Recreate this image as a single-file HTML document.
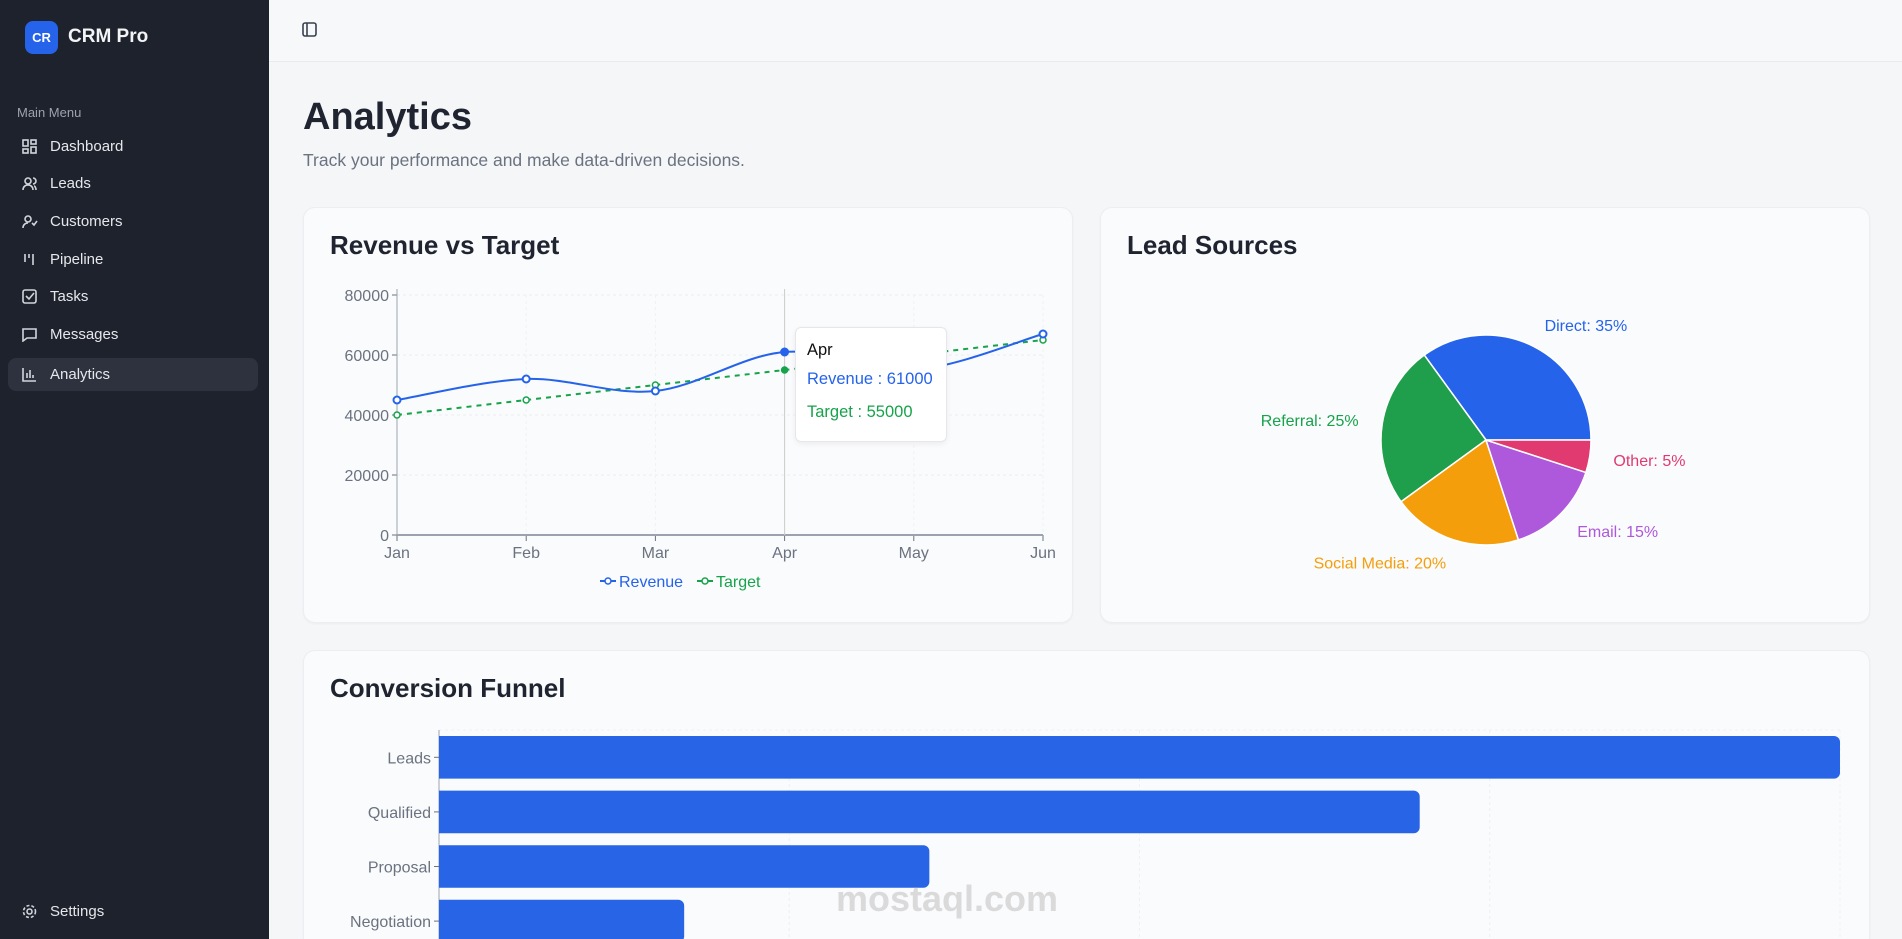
<!DOCTYPE html>
<html style="width:1902px;height:939px;overflow:hidden"><head><meta charset="utf-8">
<style>
*{box-sizing:border-box;margin:0;padding:0}
html,body{width:1902px;height:939px;overflow:hidden}
body{font-family:"Liberation Sans",sans-serif;background:#f5f6f8;position:relative}
.sb{position:absolute;left:0;top:0;width:269px;height:939px;background:#1e222c;color:#e5e7eb;z-index:2}
.logo{position:absolute;left:25px;top:21px;width:33px;height:33px;border-radius:8px;background:#2563eb;color:#fff;font-weight:bold;font-size:13px;display:flex;align-items:center;justify-content:center}
.brand{position:absolute;left:68px;top:26px;font-size:19px;font-weight:bold;color:#f3f4f6}
.mm{position:absolute;left:17px;top:105px;font-size:13px;color:#9ca3af}
.it{position:absolute;left:8px;width:250px;height:33px;border-radius:8px;font-size:15px;color:#e5e7eb;display:flex;align-items:center;padding-left:42px}
.it svg{position:absolute;left:14px;top:9px}
.act{background:#2d323e}
.hdr{position:absolute;left:269px;top:0;right:0;height:62px;border-bottom:1px solid #e8eaee;background:#f7f8fa}
.card{position:absolute;background:#fafbfc;border:1px solid #eceef1;border-radius:12px;box-shadow:0 1px 2px rgba(0,0,0,.04)}
.ct{position:absolute;left:26px;top:22px;font-size:26px;font-weight:bold;color:#1f2430}
</style></head><body>
<div class="sb">
 <div class="logo">CR</div>
 <div class="brand">CRM Pro</div>
 <div class="mm">Main Menu</div>
 <div class="it" style="top:130px"><svg width="15" height="15" fill="none" stroke="#d1d5db" stroke-width="1.6"><rect x="1" y="1" width="5" height="6"/><rect x="9" y="1" width="5" height="4"/><rect x="1" y="10" width="5" height="4"/><rect x="9" y="8" width="5" height="6"/></svg>Dashboard</div>
 <div class="it" style="top:167px"><svg width="16" height="15" fill="none" stroke="#d1d5db" stroke-width="1.6"><circle cx="6" cy="5" r="3"/><path d="M1 14c0-3 2-5 5-5s5 2 5 5M11 2a3 3 0 010 6M14 14c0-2-1-4-2-4"/></svg>Leads</div>
 <div class="it" style="top:205px"><svg width="16" height="15" fill="none" stroke="#d1d5db" stroke-width="1.6"><circle cx="6" cy="5" r="3"/><path d="M1 14c0-3 2-5 5-5M10 9l2 2 3-4"/></svg>Customers</div>
 <div class="it" style="top:243px"><svg width="15" height="15" fill="none" stroke="#d1d5db" stroke-width="1.6"><path d="M3 2v8M7 2v4M11 2v11"/></svg>Pipeline</div>
 <div class="it" style="top:280px"><svg width="15" height="15" fill="none" stroke="#d1d5db" stroke-width="1.6"><rect x="1" y="1" width="13" height="13" rx="2"/><path d="M4 7l3 3 5-6"/></svg>Tasks</div>
 <div class="it" style="top:318px"><svg width="15" height="15" fill="none" stroke="#d1d5db" stroke-width="1.6"><path d="M1 2h13v9H5l-4 3z"/></svg>Messages</div>
 <div class="it act" style="top:358px"><svg width="15" height="15" fill="none" stroke="#d1d5db" stroke-width="1.6"><path d="M1 1v13h13M5 11V6M8 11V3M11 11V8"/></svg>Analytics</div>
 <div class="it" style="top:895px"><svg width="15" height="15" fill="none" stroke="#d1d5db" stroke-width="1.6"><circle cx="7.5" cy="7.5" r="2.5"/><circle cx="7.5" cy="7.5" r="6" stroke-dasharray="3 2"/></svg>Settings</div>
</div>
<div class="hdr">
 <svg style="position:absolute;left:33px;top:22px" width="15" height="15" fill="none" stroke="#374151" stroke-width="1.6"><rect x="1" y="1" width="13" height="13" rx="2"/><path d="M5 1v13"/></svg>
</div>
<div style="position:absolute;left:303px;top:96px;font-size:38px;font-weight:bold;color:#1f2430">Analytics</div>
<div style="position:absolute;left:303px;top:150px;font-size:17.5px;color:#6b7280">Track your performance and make data-driven decisions.</div>

<div class="card" style="left:303px;top:207px;width:770px;height:416px">
 <div class="ct">Revenue vs Target</div>
</div>
<div class="card" style="left:1100px;top:207px;width:770px;height:416px">
 <div class="ct">Lead Sources</div>
</div>
<div class="card" style="left:303px;top:650px;width:1567px;height:289px;border-bottom:none;border-radius:12px 12px 0 0">
 <div class="ct">Conversion Funnel</div>
</div>

<svg id="svg" width="1902" height="939" style="position:absolute;left:0;top:0" font-family="Liberation Sans, sans-serif"></svg>
<div style="position:absolute;left:836px;top:878px;font-size:36px;font-weight:bold;color:rgba(170,170,170,.4)">mostaql.com</div>

<div style="position:absolute;left:795px;top:327px;width:152px;height:115px;background:#fff;border:1px solid #e5e7eb;border-radius:6px;box-shadow:0 2px 6px rgba(0,0,0,.06);padding:13px 11px;font-size:16.5px">
 <div style="color:#111">Apr</div>
 <div style="color:#2563eb;margin-top:10px">Revenue : 61000</div>
 <div style="color:#16a34a;margin-top:14px">Target : 55000</div>
</div>

<script>
const months=["Jan","Feb","Mar","Apr","May","Jun"];
const revenue=[45000,52000,48000,61000,55000,67000];
const target=[40000,45000,50000,55000,60000,65000];
const yTicks=[0,20000,40000,60000,80000];
const pieLabels=["Direct","Referral","Social Media","Email","Other"];
const pieValues=[35,25,20,15,5];
const pieColors=["#2563eb","#1f9e4b","#f59e0b","#ae58db","#e03a70"];
const funnelStages=["Leads","Qualified","Proposal","Negotiation"];
const funnelValues=[1000,700,350,175];
const funnelMax=1000;

const S=document.getElementById('svg');const NS="http://www.w3.org/2000/svg";
function mk(t,a,txt){const e=document.createElementNS(NS,t);for(const k in a)e.setAttribute(k,a[k]);if(txt!=null)e.textContent=txt;S.appendChild(e);return e;}
const x0=397,x1=1043,yb=535,yt=295;
const xs=i=>x0+(x1-x0)*i/(months.length-1);
const ys=v=>yb-(yb-yt)*v/80000;
yTicks.forEach(t=>{let g=mk('line',{x1:x0,x2:x1,y1:ys(t),y2:ys(t),stroke:'#eceef1','stroke-dasharray':'3 3'});
 let l=mk('text',{x:x0-8,y:ys(t)+6,'text-anchor':'end','font-size':16,fill:'#6b7280'},t);
 mk('line',{x1:x0-5,x2:x0,y1:ys(t),y2:ys(t),stroke:'#6b7280'});});
months.forEach((m,i)=>{mk('line',{x1:xs(i),x2:xs(i),y1:yt,y2:yb,stroke:'#f0f1f3','stroke-dasharray':'3 3'});
 let l=mk('text',{x:xs(i),y:yb+23,'text-anchor':'middle','font-size':16,fill:'#6b7280'},m);
 mk('line',{x1:xs(i),x2:xs(i),y1:yb,y2:yb+6,stroke:'#6b7280'});});
mk('line',{x1:x0,x2:x0,y1:yt-6,y2:yb,stroke:'#9ca3af'});
mk('line',{x1:x0,x2:x1,y1:yb,y2:yb,stroke:'#9ca3af','stroke-width':2});
mk('line',{x1:xs(3),x2:xs(3),y1:yt-6,y2:yb,stroke:'#ccc'});
function curve(vals){const p=vals.map((v,i)=>[xs(i),ys(v)]);let d=`M${p[0][0]},${p[0][1]}`;
 for(let i=0;i<p.length-1;i++){const p0=p[i-1]||p[i],p1=p[i],p2=p[i+1],p3=p[i+2]||p2;
 d+=` C${p1[0]+(p2[0]-p0[0])/6},${p1[1]+(p2[1]-p0[1])/6} ${p2[0]-(p3[0]-p1[0])/6},${p2[1]-(p3[1]-p1[1])/6} ${p2[0]},${p2[1]}`;}return d;}
let tl=mk('path',{d:curve(target),fill:'none',stroke:'#16a34a','stroke-width':2,'stroke-dasharray':'5 5'});
let rl=mk('path',{d:curve(revenue),fill:'none',stroke:'#2563eb','stroke-width':2});
target.forEach((v,i)=>{let c=mk('circle',{cx:xs(i),cy:ys(v),r:3,fill:i==3?'#16a34a':'#fff',stroke:'#16a34a','stroke-width':1.5});});
revenue.forEach((v,i)=>{let c=mk('circle',{cx:xs(i),cy:ys(v),r:3.5,fill:i==3?'#2563eb':'#fff',stroke:'#2563eb','stroke-width':2});});
mk('line',{x1:600,x2:616,y1:581,y2:581,stroke:'#2563eb','stroke-width':2});mk('circle',{cx:608,cy:581,r:3,fill:'#fff',stroke:'#2563eb','stroke-width':1.5});
let lr=mk('text',{x:619,y:587,'font-size':16,fill:'#2563eb'},'Revenue');
mk('line',{x1:697,x2:713,y1:581,y2:581,stroke:'#16a34a','stroke-width':2});mk('circle',{cx:705,cy:581,r:3,fill:'#fff',stroke:'#16a34a','stroke-width':1.5});
let lt=mk('text',{x:716,y:587,'font-size':16,fill:'#16a34a'},'Target');
const cx=1486,cy=440,R=105;let tot=pieValues.reduce((a,b)=>a+b,0),a=0;
pieValues.forEach((v,i)=>{const a1=a,a2=a+v/tot*2*Math.PI;a=a2;
 const P=t=>[cx+R*Math.cos(t),cy-R*Math.sin(t)];const s=P(a1),e=P(a2);
 let p=mk('path',{d:`M${cx},${cy}L${s[0]},${s[1]}A${R},${R} 0 ${a2-a1>Math.PI?1:0} 0 ${e[0]},${e[1]}Z`,fill:pieColors[i],stroke:'#fff','stroke-width':1.5});
 
 const m=(a1+a2)/2,lx=cx+(R+24)*Math.cos(m),ly=cy-(R+24)*Math.sin(m);
 let t=mk('text',{x:lx,y:ly+6,'font-size':16,fill:pieColors[i]==='#1f9e4b'?'#16a34a':pieColors[i],'text-anchor':Math.cos(m)>0?'start':'end'},pieLabels[i]+': '+v+'%');
 });
const fx0=439,fx1=1840,fy0=730,band=54.6;
const fxs=v=>fx0+(fx1-fx0)*v/funnelMax;
for(let k=1;k<=4;k++)mk('line',{x1:fxs(funnelMax*k/4),x2:fxs(funnelMax*k/4),y1:fy0,y2:939,stroke:'#eef0f2','stroke-dasharray':'3 3'});
mk('line',{x1:fx0,x2:fx1,y1:fy0,y2:fy0,stroke:'#eef0f2','stroke-dasharray':'3 3'});
mk('line',{x1:fx0,x2:fx0,y1:fy0,y2:939,stroke:'#9ca3af'});
funnelStages.forEach((s,i)=>{const y=fy0+i*band+6,h=band-12;
 const w=fxs(funnelValues[i])-fx0;
 let b=mk('path',{d:`M${fx0},${y}h${w-6}a6,6 0 0 1 6,6v${h-12}a6,6 0 0 1 -6,6h${-(w-6)}Z`,fill:'#2864e6'});
 
 let l=mk('text',{x:fx0-8,y:y+h/2+6,'text-anchor':'end','font-size':16,fill:'#6b7280'},s);
 mk('line',{x1:fx0-5,x2:fx0,y1:y+h/2,y2:y+h/2,stroke:'#6b7280'});});
</script>
</body></html>
